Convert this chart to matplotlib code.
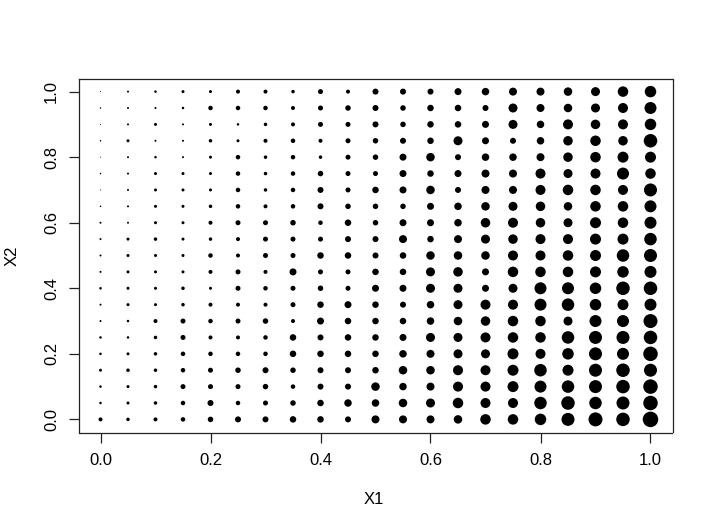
import matplotlib
matplotlib.use("Agg")
import matplotlib.pyplot as plt
import numpy as np

# grid values for the two axes
x1_vals = [0.0, 0.05, 0.1, 0.15, 0.2, 0.25, 0.3, 0.35, 0.4, 0.45, 0.5,
           0.55, 0.6, 0.65, 0.7, 0.75, 0.8, 0.85, 0.9, 0.95, 1.0]
x2_vals = [1.0, 0.95, 0.9, 0.85, 0.8, 0.75, 0.7, 0.65, 0.6, 0.55, 0.5,
           0.45, 0.4, 0.35, 0.3, 0.25, 0.2, 0.15, 0.1, 0.05, 0.0]

# third variable (point size), one row per x2 value (top row first)
z_rows = [
    [1, 2, 2.5, 3, 3, 4, 4, 3.5, 5, 4, 6, 6, 6, 7, 7.5, 8, 8, 8.5, 9, 10.5, 11.5],
    [1.5, 2, 2, 2.5, 4.5, 4.5, 4.5, 4, 5, 5.5, 6, 5.5, 6.5, 6.5, 6, 9, 8, 8.5, 9, 10, 12],
    [1, 2, 3, 2, 3, 2.5, 3.5, 4, 5, 5, 6, 5.5, 6.5, 6.5, 7, 9, 7.5, 10, 9.5, 10, 11.5],
    [1.5, 3, 2, 2, 3.5, 3, 4, 4.5, 4, 5, 5.5, 6, 6.5, 9, 7, 6, 7.5, 9.5, 10.5, 9.5, 13.5],
    [1, 2, 2.5, 2, 3, 4.5, 3.5, 4.5, 3.5, 5, 5.5, 7, 8.5, 6, 7.5, 7.5, 8, 9.5, 10.5, 11, 11],
    [1.5, 2, 3, 3, 3, 4.5, 3.5, 4.5, 5.5, 5, 5, 7, 6.5, 7, 8, 8, 10, 9, 10, 12, 10.5],
    [1, 2, 3, 3, 3, 4.5, 3.5, 4.5, 6, 5, 6.5, 7, 8.5, 6, 8, 8, 10, 10.5, 10.5, 10, 13],
    [1.5, 2, 3, 3, 3.5, 4.5, 4, 4.5, 6, 5.5, 5.5, 5.5, 7, 7.5, 8.5, 9, 9.5, 8.5, 10.5, 10.5, 12],
    [2, 2, 3, 3, 4, 5, 5, 5.5, 4.5, 6.5, 5.5, 7, 7, 7.5, 9.5, 10, 9.5, 9, 11, 10.5, 12],
    [2, 3, 3.5, 3, 3.5, 4, 5, 5, 5, 6, 6, 8, 6.5, 8, 9, 9.5, 10, 10, 11, 11, 12.5],
    [2, 3, 3, 3, 4.5, 4, 5, 5, 6.5, 6.5, 6, 6.5, 8.5, 8.5, 8.5, 10, 10, 10.5, 11, 12.5, 13],
    [2, 3, 3, 3, 4, 5, 4, 7, 5, 5, 6.5, 6.5, 9, 9.5, 7, 10.5, 10.5, 10.5, 11, 11.5, 12],
    [2.5, 3, 3, 3.5, 3, 5, 4.5, 5, 5.5, 5, 7, 7, 9, 9, 7, 9, 12, 12, 11.5, 13.5, 13.5],
    [2, 3, 3, 3.5, 4, 4, 4, 5, 6.5, 7, 6.5, 6, 7.5, 9, 10, 10, 12, 12.5, 11.5, 11, 12],
    [2, 2.5, 4, 5, 4.5, 5, 5.5, 4, 7, 6.5, 6.5, 6.5, 7.5, 8.5, 9.5, 10.5, 10.5, 9, 12, 12, 14],
    [2.5, 2.5, 3.5, 5, 4, 4, 4.5, 6.5, 6, 6.5, 6.5, 7, 9, 9, 10, 10.5, 10.5, 12.5, 13, 13, 13.5],
    [2.5, 3, 3.5, 4.5, 4.5, 4.5, 4.5, 6.5, 6.5, 6.5, 6.5, 7.5, 8, 9, 9, 11, 10, 11.5, 13, 12, 14.5],
    [3, 3.5, 3.5, 4.5, 5, 5.5, 6, 5.5, 6, 6, 6.5, 8.5, 8.5, 10, 10, 11, 12.5, 11, 13, 13.5, 13],
    [2.5, 3, 3.5, 5, 5, 5, 5.5, 4.5, 6, 6, 8.5, 7.5, 8, 10, 10, 11, 12, 12.5, 13, 13.5, 14.5],
    [2.5, 3, 3.5, 4.5, 6, 4.5, 5, 5.5, 6.5, 7.5, 7.5, 8.5, 9, 10.5, 10, 10, 12.5, 13.5, 12.5, 13, 14.5],
    [4, 3.5, 4, 4.5, 5.5, 6, 6, 6.5, 6.5, 6, 8, 8, 8, 8.5, 10.5, 10.5, 11.5, 13, 14, 13.5, 15.5],
]

tick_vals = [0.0, 0.2, 0.4, 0.6, 0.8, 1.0]
tick_labels = ["0.0", "0.2", "0.4", "0.6", "0.8", "1.0"]

plt.rcParams['font.family'] = ['Liberation Sans', 'DejaVu Sans']

DPI = 100
W, H = 712, 530
fig = plt.figure(figsize=(W / DPI, H / DPI), dpi=DPI)

# plot box in pixels (R base graphics layout)
left, right, top, bottom = 78.5, 672.5, 78.5, 432.5
ax = fig.add_axes([left / W, 1 - bottom / H, (right - left) / W, (bottom - top) / H])

X1, X2 = np.meshgrid(x1_vals, x2_vals)
Z = np.array(z_rows)
# z is a diameter in pixels -> scatter area in points^2
sizes = (Z * 72.0 / DPI) ** 2
ax.scatter(X1.ravel(), X2.ravel(), s=sizes.ravel(), c='black', linewidths=0)

ax.set_xlim(-0.04, 1.04)
ax.set_ylim(-0.04, 1.04)

ax.set_xticks(tick_vals)
ax.set_xticklabels(tick_labels)
ax.set_yticks(tick_vals)
ax.set_yticklabels(tick_labels)
for lab in ax.get_yticklabels():
    lab.set_rotation(90)
    lab.set_va('center')

ax.tick_params(axis='both', length=7, width=0.9, color='#222222',
               labelsize=12, direction='out')
ax.tick_params(axis='x', pad=8)
ax.tick_params(axis='y', pad=7)
for sp in ax.spines.values():
    sp.set_linewidth(0.9)
    sp.set_color('#222222')

fig.text(374 / W, 1 - 500 / H, "X1", ha='center', va='center', fontsize=12)
fig.text(12 / W, 1 - 256 / H, "X2", ha='center', va='center', fontsize=12,
         rotation=90)

fig.savefig("out.png", dpi=DPI, facecolor='white')
